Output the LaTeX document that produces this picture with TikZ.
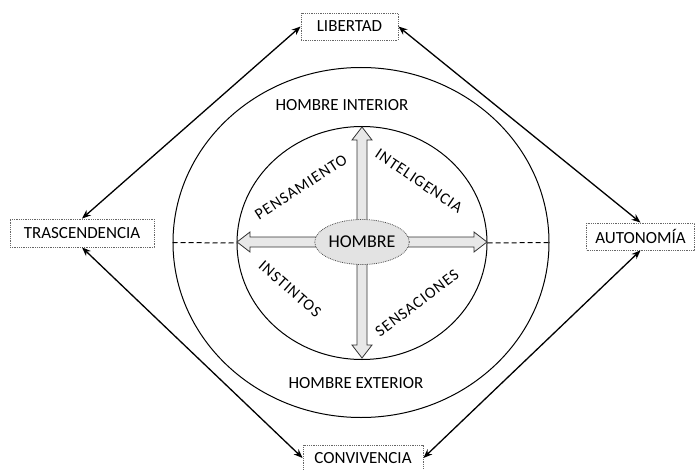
\documentclass[tikz,border=0pt]{standalone}
\usepackage{fontspec}
\setmainfont{Carlito}
\newfontfamily\spacedfont[LetterSpace=6]{Carlito}
\usetikzlibrary{shapes.geometric,arrows.meta}
\tikzset{
  lbl/.style={font=\fontsize{17}{20}\selectfont, inner sep=0pt},
  rlbl/.style={font=\spacedfont\fontsize{16}{20}\selectfont, inner sep=0pt},
  boxnode/.style={draw=black!60, densely dotted, line width=0.8pt, font=\fontsize{17}{20}\selectfont, inner sep=0pt, minimum height=27pt},
  ring/.style={draw=black, line width=1pt, ellipse, inner sep=0pt},
  link/.style={line width=1.3pt, {Stealth[length=9pt,width=7pt]}-{Stealth[length=9pt,width=7pt]}},
  dline/.style={dashed, line width=1pt, dash pattern=on 5pt off 3pt},
  arrowbody/.style={draw=black!80, line width=0.8pt, fill=gray!18},
  pics/warrow/.style={code={
    \draw[arrowbody] (0,-5) -- (#1-13,-5) -- (#1-13,-10) -- (#1,0) -- (#1-13,10) -- (#1-13,5) -- (0,5) -- cycle;}}
}
\begin{document}
\begin{tikzpicture}[x=1pt,y=-1pt]
\useasboundingbox (0,0) rectangle (695,470);
% ellipses
\node[ring, minimum width=376pt, minimum height=350pt] (outer) at (361,242.5) {};
\node[ring, minimum width=250pt, minimum height=233pt] (inner) at (362,243) {};
% dashed lines
\draw[dline] (outer.west) -- (inner.west);
\draw[dline] (inner.east) -- (outer.east);
% wide arrows
\coordinate (c) at (362,242);
\pic[rotate=90] at (c) {warrow=115};
\pic[rotate=-90] at (c) {warrow=116};
\pic[rotate=180] at (c) {warrow=125};
\pic at (c) {warrow=125};
% center
\node[ellipse, draw=black!70, line width=0.8pt, densely dotted, fill=gray!22, minimum width=81pt, minimum height=45pt, inner sep=0pt, font=\fontsize{18}{20}\selectfont] (hombre) at (c) {HOMBRE};
% labels
\node[lbl] (hi) at (342,105) {HOMBRE INTERIOR};
\node[lbl] (he) at (356,383) {HOMBRE EXTERIOR};
\node[rlbl, rotate=33] (pen) at (301,187) {PENSAMIENTO};
\node[rlbl, rotate=-34] (int) at (419,181) {INTELIGENCIA};
\node[rlbl, rotate=-41] (ins) at (290,289) {INSTINTOS};
\node[rlbl, rotate=37] (sen) at (417,303) {SENSACIONES};
% boxes
\node[boxnode, minimum width=97pt] (lib) at (349.5,26.5) {LIBERTAD};
\node[boxnode, minimum width=144pt, minimum height=28pt] (tra) at (82,233) {TRASCENDENCIA};
\node[boxnode, minimum width=108pt] (aut) at (640.5,236.5) {AUTONOMÍA};
\node[boxnode, minimum width=120pt, minimum height=26pt] (con) at (363,458) {CONVIVENCIA};
% connectors
\draw[link] (lib.west) -- (tra.north);
\draw[link] (lib.east) -- (aut.north);
\draw[link] (tra.south) -- (con.west);
\draw[link] (aut.south) -- (con.east);
\end{tikzpicture}
\end{document}
